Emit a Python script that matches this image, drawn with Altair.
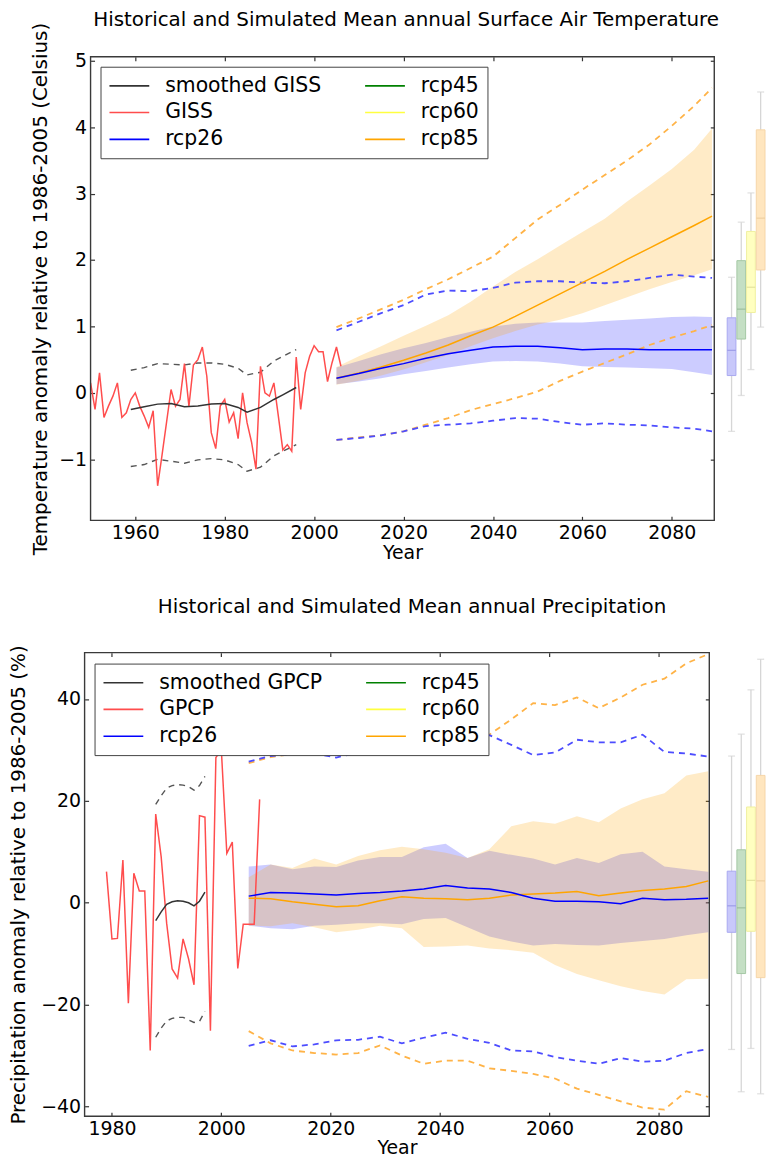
import altair as alt
import pandas as pd

FONT = "DejaVu Sans"

# ===================== Temperature panel data =====================
GISS_YEARS = list(range(1950, 2007))
GISS = [0.15, -0.25, 0.30, -0.37, -0.20, -0.05, 0.15, -0.37, -0.30, -0.10,
        0.00, -0.20, -0.35, -0.52, -0.27, -1.40, -0.93, -0.44, 0.05, -0.20,
        -0.10, 0.44, -0.20, 0.42, 0.50, 0.69, 0.25, -0.60, -0.84, -0.20,
        -0.10, -0.44, -0.30, -0.69, 0.00, -0.45, -0.74, -1.15, 0.40, 0.00,
        -0.05, 0.15, -0.35, -0.86, -0.78, -0.88, 0.54, -0.25, 0.30, 0.55,
        0.71, 0.62, 0.62, 0.17, 0.45, 0.69, 0.40]

GISS_SM_YEARS = [1959, 1962, 1965, 1968, 1971, 1974, 1977, 1980, 1983, 1985, 1988, 1991, 1993, 1996]
GISS_SM = [-0.25, -0.21, -0.17, -0.16, -0.21, -0.20, -0.17, -0.16, -0.22, -0.29, -0.22, -0.10, -0.03, 0.08]
GISS_SM_HI = [0.34, 0.38, 0.44, 0.43, 0.42, 0.45, 0.45, 0.43, 0.37, 0.27, 0.31, 0.48, 0.55, 0.65]
GISS_SM_LO = [-1.11, -1.08, -1.00, -1.03, -1.06, -1.01, -0.99, -1.01, -1.08, -1.18, -1.12, -0.95, -0.88, -0.78]

T_YEARS = [2005, 2010, 2015, 2020, 2025, 2030, 2035, 2040, 2045, 2050, 2055, 2060, 2065, 2070, 2075, 2080, 2085, 2089]
T26_MEAN = [0.22, 0.29, 0.37, 0.44, 0.52, 0.59, 0.64, 0.69, 0.70, 0.70, 0.68, 0.65, 0.66, 0.66, 0.65, 0.65, 0.65, 0.65]
T26_HI = [0.38, 0.48, 0.58, 0.67, 0.75, 0.84, 0.92, 1.00, 1.04, 1.06, 1.06, 1.06, 1.08, 1.10, 1.12, 1.14, 1.15, 1.14]
T26_LO = [0.13, 0.17, 0.22, 0.28, 0.33, 0.38, 0.43, 0.47, 0.48, 0.47, 0.44, 0.40, 0.39, 0.38, 0.37, 0.36, 0.31, 0.27]
T26_MAX = [0.94, 1.07, 1.20, 1.32, 1.48, 1.54, 1.53, 1.58, 1.66, 1.68, 1.68, 1.66, 1.65, 1.68, 1.73, 1.78, 1.75, 1.73]
T26_MIN = [-0.71, -0.68, -0.64, -0.58, -0.50, -0.48, -0.46, -0.42, -0.38, -0.39, -0.44, -0.48, -0.46, -0.48, -0.49, -0.52, -0.54, -0.58]
T85_MEAN = [0.22, 0.30, 0.39, 0.49, 0.60, 0.72, 0.86, 0.99, 1.15, 1.32, 1.49, 1.66, 1.83, 2.01, 2.18, 2.35, 2.52, 2.66]
T85_HI = [0.39, 0.55, 0.70, 0.86, 1.01, 1.17, 1.37, 1.60, 1.82, 2.01, 2.22, 2.42, 2.62, 2.88, 3.12, 3.37, 3.66, 3.98]
T85_LO = [0.12, 0.18, 0.26, 0.35, 0.46, 0.57, 0.70, 0.82, 0.93, 1.03, 1.10, 1.20, 1.32, 1.44, 1.56, 1.67, 1.77, 1.86]
T85_MAX = [0.99, 1.12, 1.26, 1.40, 1.56, 1.71, 1.88, 2.05, 2.33, 2.61, 2.83, 3.06, 3.28, 3.50, 3.74, 4.02, 4.32, 4.59]
T85_MIN = [-0.71, -0.67, -0.64, -0.58, -0.48, -0.38, -0.26, -0.17, -0.08, 0.02, 0.18, 0.32, 0.45, 0.58, 0.72, 0.83, 0.93, 1.02]

BOX_SCEN = ["rcp26", "rcp45", "rcp60", "rcp85"]
T_BOX_LO = [-0.58, -0.04, 0.35, 0.99]
T_BOX_Q1 = [0.26, 0.81, 1.21, 1.85]
T_BOX_MED = [0.64, 1.26, 1.59, 2.63]
T_BOX_Q3 = [1.13, 1.99, 2.43, 3.96]
T_BOX_HI = [1.74, 2.57, 3.01, 4.53]

# ===================== Precipitation panel data =====================
GPCP_YEARS = list(range(1979, 2008))
GPCP = [6.1, -7.1, -7.0, 8.4, -19.7, 5.8, 2.3, 2.3, -29.0, 17.4,
        9.0, -4.0, -13.0, -14.8, -7.1, -11.0, -16.1, 17.1, 16.8, -25.1,
        28.5, 30.0, 9.7, 11.9, -12.9, -4.2, -4.2, -4.2, 20.3]

GPCP_SM_YEARS = [1988, 1989, 1990, 1991, 1992, 1993, 1994, 1995, 1996, 1997]
GPCP_SM = [-3.5, -1.8, -0.3, 0.2, 0.4, 0.3, 0.0, -0.6, 0.3, 2.1]
GPCP_SM_HI = [19.3, 21.0, 22.5, 23.0, 23.2, 23.1, 22.8, 22.1, 23.0, 24.8]
GPCP_SM_LO = [-26.4, -24.6, -23.2, -22.7, -22.5, -22.5, -23.0, -23.5, -23.3, -21.3]

P_YEARS = [2005, 2009, 2013, 2017, 2021, 2025, 2029, 2033, 2037, 2041, 2045,
           2049, 2053, 2057, 2061, 2065, 2069, 2073, 2077, 2081, 2085, 2089]
P26_MEAN = [1.3, 2.0, 1.9, 1.7, 1.5, 1.8, 2.0, 2.3, 2.7, 3.4, 2.9,
            2.7, 2.0, 0.9, 0.3, 0.3, 0.2, -0.2, 0.9, 0.6, 0.7, 0.9]
P26_HI = [7.1, 7.5, 6.6, 7.1, 7.0, 8.3, 9.0, 9.0, 10.9, 11.6, 8.8,
          10.2, 9.4, 8.7, 7.5, 8.8, 7.8, 9.5, 10.0, 7.1, 6.6, 6.1]
P26_LO = [-4.5, -5.0, -5.2, -4.5, -4.3, -4.0, -4.0, -4.2, -3.2, -3.0, -4.8,
          -6.6, -7.6, -8.4, -8.1, -8.3, -8.4, -7.9, -7.5, -7.1, -6.4, -5.8]
P26_MAX = [27.7, 28.8, 29.2, 29.3, 28.5, 29.5, 30.0, 30.5, 31.0, 31.5, 32.0,
           32.9, 31.0, 29.0, 29.5, 32.0, 31.5, 31.5, 33.0, 29.6, 29.3, 28.7]
P26_MIN = [-28.1, -27.0, -28.2, -27.8, -27.0, -26.9, -26.3, -27.6, -26.5, -25.5, -26.7,
           -27.5, -29.0, -29.2, -30.3, -31.0, -31.6, -30.5, -31.2, -31.0, -29.5, -28.7]
P85_MEAN = [0.9, 0.8, 0.2, -0.3, -0.8, -0.6, 0.4, 1.2, 0.9, 0.8, 0.6,
            0.9, 1.5, 1.7, 1.9, 2.2, 1.4, 1.9, 2.4, 2.7, 3.2, 4.3]
P85_HI = [5.0, 7.5, 6.8, 8.7, 7.5, 9.2, 10.3, 11.0, 10.5, 9.8, 8.8,
          10.5, 15.0, 16.0, 15.5, 17.0, 15.8, 18.5, 20.3, 21.5, 25.0, 25.8]
P85_LO = [-4.5, -4.6, -4.0, -4.8, -5.8, -5.3, -4.5, -5.0, -8.7, -8.6, -8.4,
          -9.0, -9.3, -9.8, -12.2, -14.0, -15.2, -16.4, -17.3, -18.0, -15.0, -14.9]
P85_MAX = [27.4, 28.6, 29.2, 29.3, 29.5, 30.5, 31.5, 32.5, 33.5, 34.0, 33.5,
           33.0, 36.0, 39.2, 38.8, 40.3, 38.2, 40.3, 42.8, 44.0, 47.0, 48.8]
P85_MIN = [-25.2, -27.6, -29.0, -29.5, -29.8, -29.5, -28.0, -30.0, -31.6, -31.0, -31.0,
           -32.5, -33.0, -33.6, -34.5, -36.5, -37.7, -39.0, -40.2, -40.6, -37.0, -38.1]

P_BOX_LO = [-28.8, -37.1, -28.6, -37.5]
P_BOX_Q1 = [-5.8, -13.9, -5.6, -14.7]
P_BOX_MED = [-0.6, -1.0, 4.4, 4.3]
P_BOX_Q3 = [6.2, 10.4, 18.8, 25.0]
P_BOX_HI = [28.8, 33.1, 41.8, 47.8]

# ===================== styling =====================
BOX_FILL = ["#c8c8fa", "#c4dfc4", "#ffffc0", "#ffe6bf"]
BOX_EDGE = ["#a8a8f0", "#a4c8a4", "#f0f0a0", "#f6d6a8"]
BOX_MED = ["#8c8ce0", "#8cb08c", "#d8d890", "#e8c894"]
LEG_RANGE = ["#333333", "#ff4d4d", "blue", "green", "#ffff40", "orange"]
BLUE_D = "#4d4dff"
ORANGE_D = "#ffb347"


def x_enc(xs):
    return alt.X("year:Q", scale=xs, axis=None)


def y_enc(field, ys):
    return alt.Y(f"{field}:Q", scale=ys, axis=None)


def band(years, lo, hi, color, opacity, xs, ys):
    df = pd.DataFrame({"year": years, "lo": lo, "hi": hi})
    return alt.Chart(df).mark_area(color=color, opacity=opacity, clip=True).encode(
        x=x_enc(xs), y=y_enc("lo", ys), y2="hi:Q")


def line(years, vals, color, xs, ys, width=1.5, dash=None, opacity=1.0):
    df = pd.DataFrame({"year": years, "value": vals})
    kw = dict(color=color, strokeWidth=width, opacity=opacity, clip=True)
    if dash is not None:
        kw["strokeDash"] = dash
    return alt.Chart(df).mark_line(**kw).encode(x=x_enc(xs), y=y_enc("value", ys))


def legend_lines(items, domain, xs, ys, lx, ly):
    df = pd.concat([pd.DataFrame({"year": yr, "value": v, "series": name}) for name, yr, v in items])
    return alt.Chart(df).mark_line(strokeWidth=1.5, clip=True).encode(
        x=x_enc(xs), y=y_enc("value", ys),
        color=alt.Color("series:N", scale=alt.Scale(domain=domain, range=LEG_RANGE),
                        legend=alt.Legend(orient="none", legendX=lx, legendY=ly, columns=2,
                                          title=None, symbolType="M-1,0H3", symbolSize=400,
                                          symbolStrokeWidth=1.6, labelFont=FONT, labelFontSize=20.5,
                                          labelColor="black", fillColor="white", strokeColor="#444",
                                          padding=8, rowPadding=5, columnPadding=40, labelOffset=35,
                                          cornerRadius=0, labelLimit=300)))


def frame_layers(xdom, ydom, xs, ys, xticks, yticks, ytitle, left_off, ytitle_pad):
    df = pd.DataFrame({"x1": [xdom[0]], "x2": [xdom[1]], "y1": [ydom[0]], "y2": [ydom[1]]})
    main = alt.Chart(df).mark_rect(filled=False, stroke="#3a3a3a", strokeWidth=1.4).encode(
        x=alt.X("x1:Q", scale=xs, axis=alt.Axis(values=xticks, format="d", title="Year", orient="bottom",
                                                offset=-4, tickSize=4, labelPadding=3, titlePadding=1,
                                                domain=False, titleFontSize=19, labelFlush=False)),
        x2="x2:Q",
        y=alt.Y("y1:Q", scale=ys, axis=alt.Axis(values=yticks, title=ytitle, orient="left",
                                                offset=left_off, tickSize=4, labelPadding=4,
                                                titlePadding=ytitle_pad, domain=False, titleFontSize=20,
                                                labelFlush=False)),
        y2="y2:Q")
    opp = alt.Chart(df).mark_rect(opacity=0).encode(
        x=alt.X("x1:Q", scale=xs, axis=alt.Axis(values=xticks, orient="top", labels=False, title=None,
                                                offset=-4, tickSize=4, domain=False)),
        x2="x2:Q",
        y=alt.Y("y1:Q", scale=ys, axis=alt.Axis(values=yticks, orient="right", labels=False, title=None,
                                                offset=-4, tickSize=4, domain=False)),
        y2="y2:Q")
    return [main, opp]


def box_panel(lo, q1, med, q3, hi, ydom, height, width):
    df = pd.DataFrame({"scen": BOX_SCEN, "lo": lo, "q1": q1, "med": med, "q3": q3, "hi": hi,
                       "fc": BOX_FILL, "ec": BOX_EDGE, "mc": BOX_MED})
    xb = alt.X("scen:N", sort=BOX_SCEN, scale=alt.Scale(paddingInner=0.1, paddingOuter=0.0), axis=None)
    ys = alt.Scale(domain=ydom, nice=False, zero=False)
    base = alt.Chart(df)
    whisk = base.mark_rule(color="#d6d6d6", strokeWidth=1.3).encode(
        x=xb, y=alt.Y("lo:Q", scale=ys, axis=None), y2="hi:Q")
    cap_lo = base.mark_tick(color="#d6d6d6", thickness=1.3, size=7).encode(
        x=xb, y=alt.Y("lo:Q", scale=ys, axis=None))
    cap_hi = base.mark_tick(color="#d6d6d6", thickness=1.3, size=7).encode(
        x=xb, y=alt.Y("hi:Q", scale=ys, axis=None))
    box = base.mark_bar(strokeWidth=1).encode(
        x=xb, y=alt.Y("q1:Q", scale=ys, axis=None), y2="q3:Q",
        fill=alt.Fill("fc:N", scale=None), stroke=alt.Stroke("ec:N", scale=None))
    medt = base.mark_tick(thickness=1.2, size=8.5).encode(
        x=xb, y=alt.Y("med:Q", scale=ys, axis=None), fill=alt.Fill("mc:N", scale=None))
    return alt.layer(whisk, cap_lo, cap_hi, box, medt).properties(width=width, height=height)


def row_title(text, offset, dx):
    return alt.TitleParams(text, font=FONT, fontSize=20, fontWeight="normal", color="black",
                           anchor="middle", offset=offset, dx=dx)


# ===================== Temperature chart =====================
T_XDOM = [1950, 2089.5]
T_YDOM = [-1.92, 5.06]
T_W, T_H = 633, 466
txs = alt.Scale(domain=T_XDOM, range=[6, T_W], nice=False, zero=False)
tys = alt.Scale(domain=T_YDOM, nice=False, zero=False)

top_layers = [
    band(T_YEARS, T26_LO, T26_HI, "#0000ff", 0.2, txs, tys),
    band(T_YEARS, T85_LO, T85_HI, "#ffa500", 0.22, txs, tys),
    line(GISS_SM_YEARS, GISS_SM_HI, "#555555", txs, tys, 1.4, [6, 5]),
    line(GISS_SM_YEARS, GISS_SM_LO, "#555555", txs, tys, 1.4, [6, 5]),
    line(T_YEARS, T85_MAX, ORANGE_D, txs, tys, 1.8, [6, 5]),
    line(T_YEARS, T85_MIN, ORANGE_D, txs, tys, 1.8, [6, 5]),
    line(T_YEARS, T26_MAX, BLUE_D, txs, tys, 1.8, [6, 5]),
    line(T_YEARS, T26_MIN, BLUE_D, txs, tys, 1.8, [6, 5]),
    legend_lines([("GISS", GISS_YEARS, GISS), ("smoothed GISS", GISS_SM_YEARS, GISS_SM),
                  ("rcp85", T_YEARS, T85_MEAN), ("rcp26", T_YEARS, T26_MEAN)],
                 ["smoothed GISS", "GISS", "rcp26", "rcp45", "rcp60", "rcp85"],
                 txs, tys, 16, 10),
] + frame_layers(T_XDOM, T_YDOM, txs, tys, [1960, 1980, 2000, 2020, 2040, 2060, 2080],
                 [-1, 0, 1, 2, 3, 4, 5], "Temperature anomaly relative to 1986-2005 (Celsius)", -10, 8)

top_main = alt.layer(*top_layers).properties(width=T_W, height=T_H).resolve_axis(
    x="independent", y="independent")
top_box = box_panel(T_BOX_LO, T_BOX_Q1, T_BOX_MED, T_BOX_Q3, T_BOX_HI, T_YDOM, T_H, 38)
top_row = alt.hconcat(top_main, top_box, spacing=11).properties(
    title=row_title("Historical and Simulated Mean annual Surface Air Temperature", -8, 8))

# ===================== Precipitation chart =====================
P_XDOM = [1975, 2089.2]
P_YDOM = [-41.9, 49.1]
P_W, P_H = 628, 466
pxs = alt.Scale(domain=P_XDOM, range=[0, P_W], nice=False, zero=False)
pys = alt.Scale(domain=P_YDOM, nice=False, zero=False)

bot_layers = [
    band(P_YEARS, P26_LO, P26_HI, "#0000ff", 0.2, pxs, pys),
    band(P_YEARS, P85_LO, P85_HI, "#ffa500", 0.22, pxs, pys),
    line(GPCP_SM_YEARS, GPCP_SM_HI, "#555555", pxs, pys, 1.4, [6, 5]),
    line(GPCP_SM_YEARS, GPCP_SM_LO, "#555555", pxs, pys, 1.4, [6, 5]),
    line(P_YEARS, P85_MAX, ORANGE_D, pxs, pys, 1.8, [6, 5]),
    line(P_YEARS, P85_MIN, ORANGE_D, pxs, pys, 1.8, [6, 5]),
    line(P_YEARS, P26_MAX, BLUE_D, pxs, pys, 1.8, [6, 5]),
    line(P_YEARS, P26_MIN, BLUE_D, pxs, pys, 1.8, [6, 5]),
    legend_lines([("GPCP", GPCP_YEARS, GPCP), ("smoothed GPCP", GPCP_SM_YEARS, GPCP_SM),
                  ("rcp85", P_YEARS, P85_MEAN), ("rcp26", P_YEARS, P26_MEAN)],
                 ["smoothed GPCP", "GPCP", "rcp26", "rcp45", "rcp60", "rcp85"],
                 pxs, pys, 10, 11),
] + frame_layers(P_XDOM, P_YDOM, pxs, pys, [1980, 2000, 2020, 2040, 2060, 2080],
                 [-40, -20, 0, 20, 40], "Precipitation anomaly relative to 1986-2005 (%)", -4, 12)

bot_main = alt.layer(*bot_layers).properties(width=P_W, height=P_H).resolve_axis(
    x="independent", y="independent")
bot_box = box_panel(P_BOX_LO, P_BOX_Q1, P_BOX_MED, P_BOX_Q3, P_BOX_HI, P_YDOM, P_H, 38)
bot_row = alt.hconcat(bot_main, bot_box, spacing=16).properties(
    title=row_title("Historical and Simulated Mean annual Precipitation", 28, 25))

chart = alt.vconcat(top_row, bot_row, spacing=34).properties(
    padding={"left": 0, "top": -1, "right": 0, "bottom": 0}
).resolve_scale(color="independent").configure_view(strokeOpacity=0).configure_axis(
    grid=False, labelFont=FONT, titleFont=FONT, labelFontSize=19, labelColor="black",
    titleColor="black", titleFontWeight="normal", tickColor="#333333", tickWidth=1.2
)

chart.save("out.html", embed_options={"renderer": "svg", "actions": False})
